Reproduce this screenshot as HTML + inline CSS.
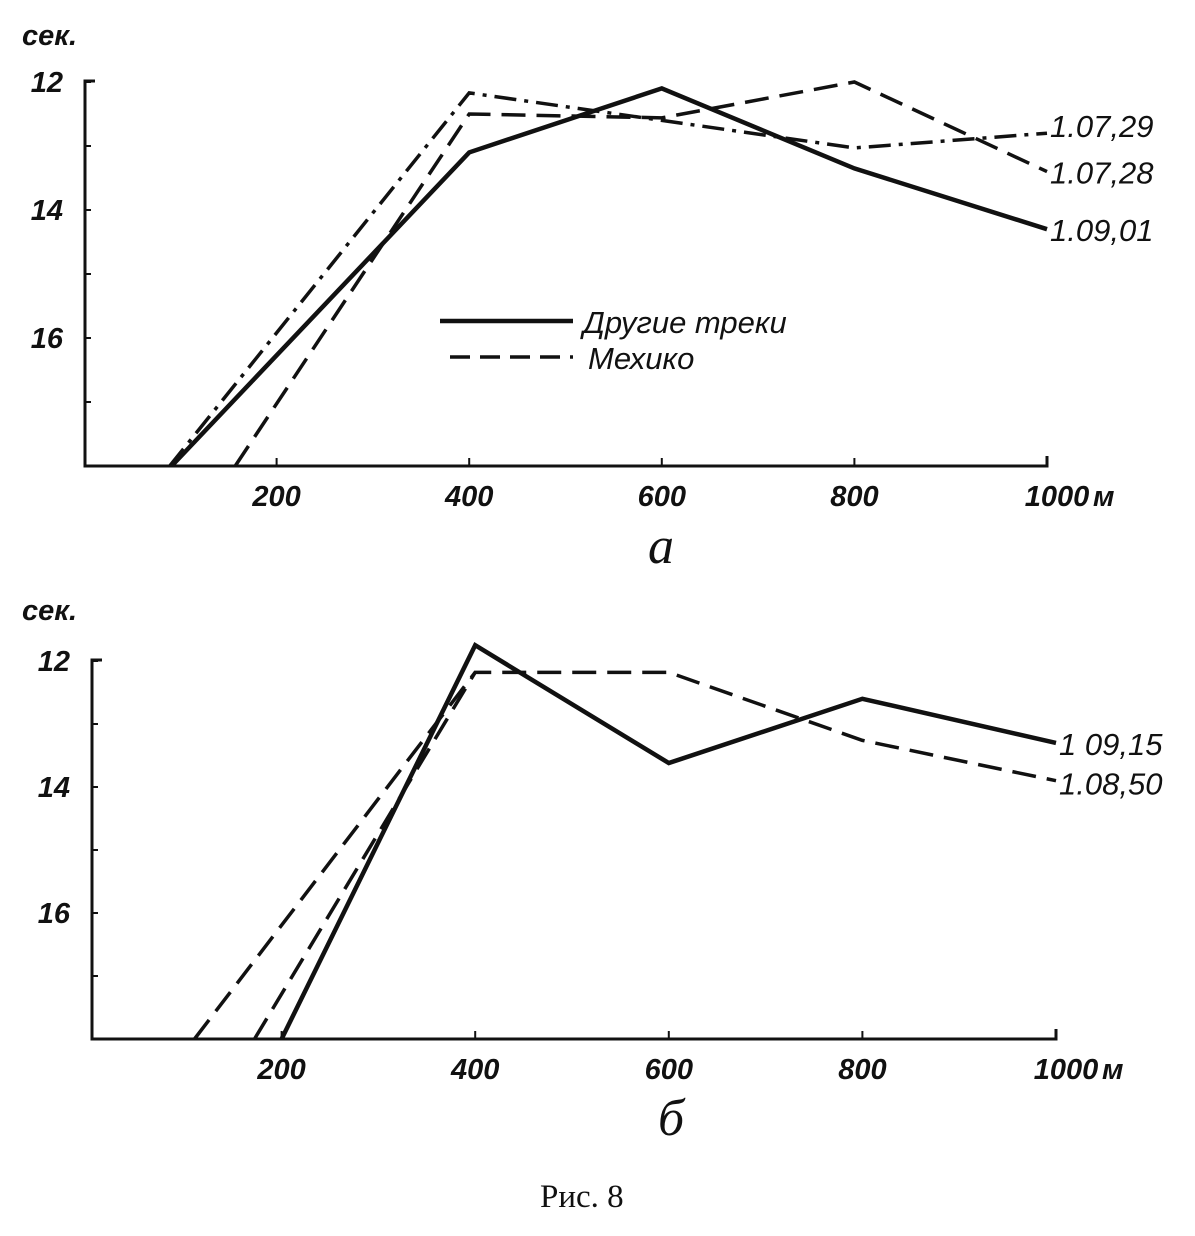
<!DOCTYPE html>
<html><head><meta charset="utf-8">
<style>
body{margin:0;background:#fff;}
svg{display:block;}
text{font-family:"Liberation Sans",sans-serif;fill:#111;}
.lab{font-style:italic;font-weight:bold;font-size:29px;}
.end{font-family:"Liberation Sans Narrow","Liberation Sans",sans-serif;font-style:italic;font-size:31px;}
</style></head>
<body>
<svg id="fig" width="1195" height="1236" viewBox="0 0 1195 1236">
<text x="22" y="45" class="lab">сек.</text>
<text x="22" y="620" class="lab">сек.</text>
<text x="648" y="563" style="font-style:italic;font-size:52px;font-family:'Liberation Serif',serif">a</text>
<text x="658" y="1135" style="font-style:italic;font-size:52px;font-family:'Liberation Serif',serif">б</text>
<text x="540" y="1207" style="font-family:'Liberation Serif',serif;font-size:33px">Рис. 8</text>
<g id="legend">
 <line x1="440" y1="321" x2="573" y2="321" stroke="#111" stroke-width="4.5"/>
 <text x="583" y="333" class="end">Другие треки</text>
 <line x1="450" y1="357" x2="573" y2="357" stroke="#111" stroke-width="3.5" stroke-dasharray="20,10"/>
 <text x="588" y="369" class="end">Мехико</text>
</g>
</svg>
<script>
// Panel a data
const xTicks = [200, 400, 600, 800, 1000];
const yTicksLabeled = [12, 14, 16];
const yTicksAll = [12, 13, 14, 15, 16, 17];
const aSolidM = [91, 400, 600, 800, 1000];
const aSolidS = [18, 13.1, 12.1, 13.35, 14.3];
const aDashM = [157, 400, 600, 800, 1000];
const aDashS = [18, 12.5, 12.56, 12.0, 13.4];
const aDashDotM = [89, 400, 600, 800, 1000];
const aDashDotS = [18, 12.17, 12.6, 13.03, 12.8];
const aEndLabels = ["1.09,01", "1.07,28", "1.07,29"];
// Panel b data
const bSolidM = [200, 400, 600, 800, 1000];
const bSolidS = [18, 11.75, 13.62, 12.6, 13.3];
const bDashM = [172, 400, 600, 800, 1000];
const bDashS = [18, 12.18, 12.18, 13.26, 13.9];
const bDash2M = [110, 400];
const bDash2S = [18, 12.18];
const bEndLabels = ["1 09,15", "1.08,50"];

const svg = document.getElementById('fig');
const NS = 'http://www.w3.org/2000/svg';
function mk(tag, attrs){const e=document.createElementNS(NS,tag);for(const k in attrs)e.setAttribute(k,attrs[k]);svg.appendChild(e);return e;}

function panel(p, cfg){
  const xs = m => cfg.x0 + m*cfg.kx;
  const ys = s => cfg.y12 + (s-12)*cfg.ky;
  const base = ys(18), top = ys(12);
  const ax = mk('path',{d:`M${cfg.axL+10},${top-1} L${cfg.axL},${top-1} L${cfg.axL},${base} L${xs(1000)},${base} L${xs(1000)},${base-10}`,fill:'none',stroke:'#111','stroke-width':3});
  
  
  yTicksAll.forEach(v=>{
    const t=mk('line',{x1:cfg.axL,y1:ys(v),x2:cfg.axL+6,y2:ys(v),stroke:'#111','stroke-width':2});
    
    
  });
  yTicksLabeled.forEach(v=>{
    const t=mk('text',{x:cfg.axL-22,y:ys(v)+10,'text-anchor':'end',class:'lab'});
    t.textContent=v;
    
    
  });
  xTicks.forEach(v=>{
    const t=mk('line',{x1:xs(v),y1:base,x2:xs(v),y2:base-8,stroke:'#111','stroke-width':2});
    
    
    const l=mk('text',{x:xs(v)+(v===1000?10:0),y:base+40,'text-anchor':'middle',class:'lab'});
    l.textContent=v;
    
    
  });
  const u=mk('text',{x:xs(1000)+46,y:base+40,class:'lab'});
  u.textContent='м';
  
  
  cfg.series.forEach(s=>{
    const d=s.m.map((m,i)=>(i?'L':'M')+xs(m)+','+ys(s.s[i])).join(' ');
    const l=mk('path',{d:d,fill:'none',stroke:'#111','stroke-width':s.w,'stroke-dasharray':s.dash||'none','stroke-linejoin':'miter'});
    
    
    if(s.label){
      const last=s.m.length-1;
      const t=mk('text',{x:xs(s.m[last])+3,y:ys(s.s[last])+s.dy,class:'end'});
      t.textContent=s.label;
      
      
    }
  });
}
panel('panel-a',{x0:84,kx:0.963,y12:82,ky:64,axL:85,series:[
  {m:aSolidM,s:aSolidS,w:4.5,name:'series-a-other-tracks',label:aEndLabels[0],dy:12},
  {m:aDashM,s:aDashS,w:3.5,dash:'24,11',name:'series-a-mexico',label:aEndLabels[1],dy:12},
  {m:aDashDotM,s:aDashDotS,w:3.5,dash:'22,8,4,8',name:'series-a-dashdot',label:aEndLabels[2],dy:4}
]});
panel('panel-b',{x0:88,kx:0.968,y12:661,ky:63,axL:92,series:[
  {m:bSolidM,s:bSolidS,w:4.5,name:'series-b-other-tracks',label:bEndLabels[0],dy:12},
  {m:bDashM,s:bDashS,w:3.5,dash:'24,11',name:'series-b-mexico',label:bEndLabels[1],dy:14},
  {m:bDash2M,s:bDash2S,w:3.5,dash:'24,11',name:'series-b-mexico-2'}
]});
</script>
</body></html>
